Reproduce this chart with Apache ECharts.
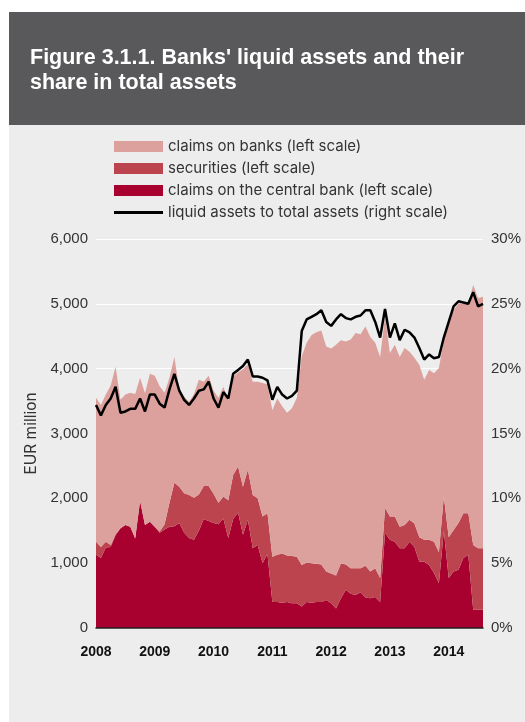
<!DOCTYPE html>
<html>
<head>
<meta charset="utf-8">
<script src="https://cdn.jsdelivr.net/npm/echarts@6/dist/echarts.min.js"></script>
<style>
  html, body { margin: 0; padding: 0; background: #ffffff; }
  #panel { position: absolute; left: 9px; top: 12px; width: 516px; height: 710px; background: #ECEDEC; }
  #band  { position: absolute; left: 9px; top: 12px; width: 516px; height: 113px; background: #59595B; }
  #chart { position: absolute; left: 0; top: 0; width: 525px; height: 722px; }
</style>
</head>
<body>
<div id="panel"></div>
<div id="band"></div>
<div id="chart"></div>
<script>
// Monthly observations, January 2008 – August 2014
const months = [];
for (let y = 2008; y <= 2014; y++) {
  for (let m = 1; m <= 12; m++) {
    if (y === 2014 && m > 8) break;
    months.push(y + '-' + (m < 10 ? '0' + m : m));
  }
}

// EUR million
const claimsCentralBank = [
  1130, 1080, 1240, 1250, 1430, 1540, 1590, 1560, 1380, 1960, 1590, 1640,
  1560, 1470, 1520, 1560, 1570, 1620, 1470, 1390, 1360, 1500, 1680, 1650,
  1620, 1600, 1690, 1390, 1680, 1780, 1440, 1670, 1230, 1280, 1000, 1140,
  400, 400, 390, 400, 380, 380, 330, 400, 390, 400, 400, 430,
  380, 300, 460, 590, 530, 510, 550, 470, 460, 480, 400, 1470,
  1360, 1330, 1230, 1230, 1330, 1250, 1020, 1020, 970, 850, 690, 1500,
  770, 870, 900, 1080, 1130, 280, 280, 280
];
const securities = [
  200, 170, 90, 30, 20, 0, 0, 0, 0, 0, 0, 0,
  0, 20, 80, 370, 670, 560, 610, 660, 650, 560, 510, 540,
  450, 330, 340, 580, 680, 710, 740, 770, 820, 720, 720, 630,
  700, 730, 760, 720, 730, 720, 640, 610, 610, 590, 580, 440,
  460, 510, 540, 390, 390, 410, 370, 490, 410, 440, 370, 380,
  360, 390, 330, 360, 340, 360, 380, 340, 390, 480, 480, 530,
  630, 640, 720, 690, 640, 1000, 950, 950
];
const claimsOnBanks = [
  2220, 2190, 2270, 2460, 2580, 1980, 2010, 2070, 2230, 1900, 2030, 2280,
  2330, 2240, 2030, 1930, 1940, 1500, 1490, 1440, 1600, 1770, 1610, 1700,
  1590, 1620, 1690, 1540, 1520, 1450, 1810, 1630, 1750, 1800, 2060, 1990,
  2260, 2410, 2270, 2200, 2280, 2450, 3220, 3390, 3520, 3570, 3610, 3470,
  3470, 3560, 3440, 3440, 3530, 3630, 3610, 3690, 3620, 3480, 3410, 2950,
  2520, 2650, 2620, 2730, 2590, 2560, 2660, 2470, 2620, 2600, 2840, 2410,
  3300, 3390, 3390, 3230, 3240, 4010, 3860, 3880
];
// per cent
const liquidShare = [
  17.2, 16.4, 17.2, 17.7, 18.6, 16.6, 16.7, 16.9, 16.9, 17.7, 16.7, 18.0,
  18.0, 17.3, 17.0, 18.4, 19.6, 18.3, 17.6, 17.2, 17.7, 18.3, 18.4, 19.0,
  17.7, 17.0, 18.2, 17.7, 19.6, 19.9, 20.2, 20.7, 19.4, 19.4, 19.3, 19.1,
  17.6, 18.6, 18.0, 17.7, 17.9, 18.3, 22.9, 23.8, 24.0, 24.2, 24.5, 23.6,
  23.3, 23.8, 24.2, 23.9, 23.8, 24.0, 24.1, 24.5, 24.5, 23.6, 22.4, 24.6,
  22.4, 23.5, 22.2, 23.0, 22.8, 22.4, 21.6, 20.7, 21.1, 20.8, 20.9, 22.4,
  23.6, 24.8, 25.2, 25.1, 25.0, 25.9, 24.8, 25.0
];

const NAME_BANKS = 'claims on banks (left scale)';
const NAME_SEC = 'securities (left scale)';
const NAME_CB = 'claims on the central bank (left scale)';
const NAME_SHARE = 'liquid assets to total assets (right scale)';

const COL_BANKS = '#DCA19C';
const COL_SEC = '#BB444F';
const COL_CB = '#A8002F';

const FONT = '"Liberation Sans", Arial, Helvetica, sans-serif';
const FONT_WIDE = 'Inter, "Liberation Sans", Arial, sans-serif';

const chart = echarts.init(document.getElementById('chart'), null, { renderer: 'canvas' });

function areaSeries(name, data, color) {
  return {
    name: name,
    type: 'line',
    stack: 'liquid',
    data: data,
    symbol: 'none',
    smooth: false,
    lineStyle: { width: 0, color: color },
    itemStyle: { color: color },
    areaStyle: { color: color, opacity: 1 },
    z: 2
  };
}

chart.setOption({
  animation: false,
  backgroundColor: 'transparent',
  title: {
    text: "Figure 3.1.1. Banks' liquid assets and their\nshare in total assets",
    left: 25,
    top: 41,
    textStyle: { color: '#ffffff', fontSize: 21.5, fontWeight: 'bold', lineHeight: 25, fontFamily: FONT }
  },
  legend: {
    orient: 'vertical',
    left: 109,
    top: 134,
    itemWidth: 49,
    itemHeight: 11,
    itemGap: 7,
    symbolKeepAspect: true,
    itemStyle: { borderWidth: 0 },
    textStyle: { fontSize: 15, color: '#333333', fontFamily: FONT_WIDE },
    data: [
      { name: NAME_BANKS, icon: 'rect' },
      { name: NAME_SEC, icon: 'rect' },
      { name: NAME_CB, icon: 'rect' },
      { name: NAME_SHARE, icon: 'path://M0,0L49,0L49,3L0,3Z', itemStyle: { color: '#000000' } }
    ]
  },
  grid: { left: 96, right: 42, top: 239, bottom: 94 },
  xAxis: {
    type: 'category',
    data: months,
    boundaryGap: false,
    z: 10,
    axisLine: { show: true, lineStyle: { color: '#1e1e1e', width: 1.5 } },
    axisTick: { show: false },
    splitLine: { show: false },
    axisLabel: {
      interval: function (idx, val) { return val.slice(5) === '01'; },
      formatter: function (val) { return val.slice(0, 4); },
      fontSize: 14,
      fontWeight: 'bold',
      color: '#111111',
      fontFamily: FONT,
      margin: 17
    }
  },
  yAxis: [
    {
      type: 'value',
      min: 0,
      max: 6000,
      interval: 1000,
      name: 'EUR million',
      nameLocation: 'middle',
      nameGap: 51,
      nameTextStyle: { fontSize: 15.5, color: '#333333', fontFamily: FONT_WIDE },
      axisLine: { show: false },
      axisTick: { show: false },
      splitLine: { show: true, lineStyle: { color: '#ffffff', width: 1 } },
      axisLabel: {
        formatter: function (v) { return v.toLocaleString('en-US'); },
        fontSize: 15,
        color: '#333333',
        fontFamily: FONT,
        margin: 8
      }
    },
    {
      type: 'value',
      min: 0,
      max: 30,
      interval: 5,
      position: 'right',
      axisLine: { show: false },
      axisTick: { show: false },
      splitLine: { show: false },
      axisLabel: {
        formatter: '{value}%',
        fontSize: 15,
        color: '#333333',
        fontFamily: FONT,
        margin: 8
      }
    }
  ],
  series: [
    areaSeries(NAME_CB, claimsCentralBank, COL_CB),
    areaSeries(NAME_SEC, securities, COL_SEC),
    areaSeries(NAME_BANKS, claimsOnBanks, COL_BANKS),
    {
      name: NAME_SHARE,
      type: 'line',
      yAxisIndex: 1,
      data: liquidShare,
      symbol: 'none',
      smooth: false,
      lineStyle: { color: '#000000', width: 2.5 },
      itemStyle: { color: '#000000' },
      z: 5
    }
  ]
});
</script>
</body>
</html>
